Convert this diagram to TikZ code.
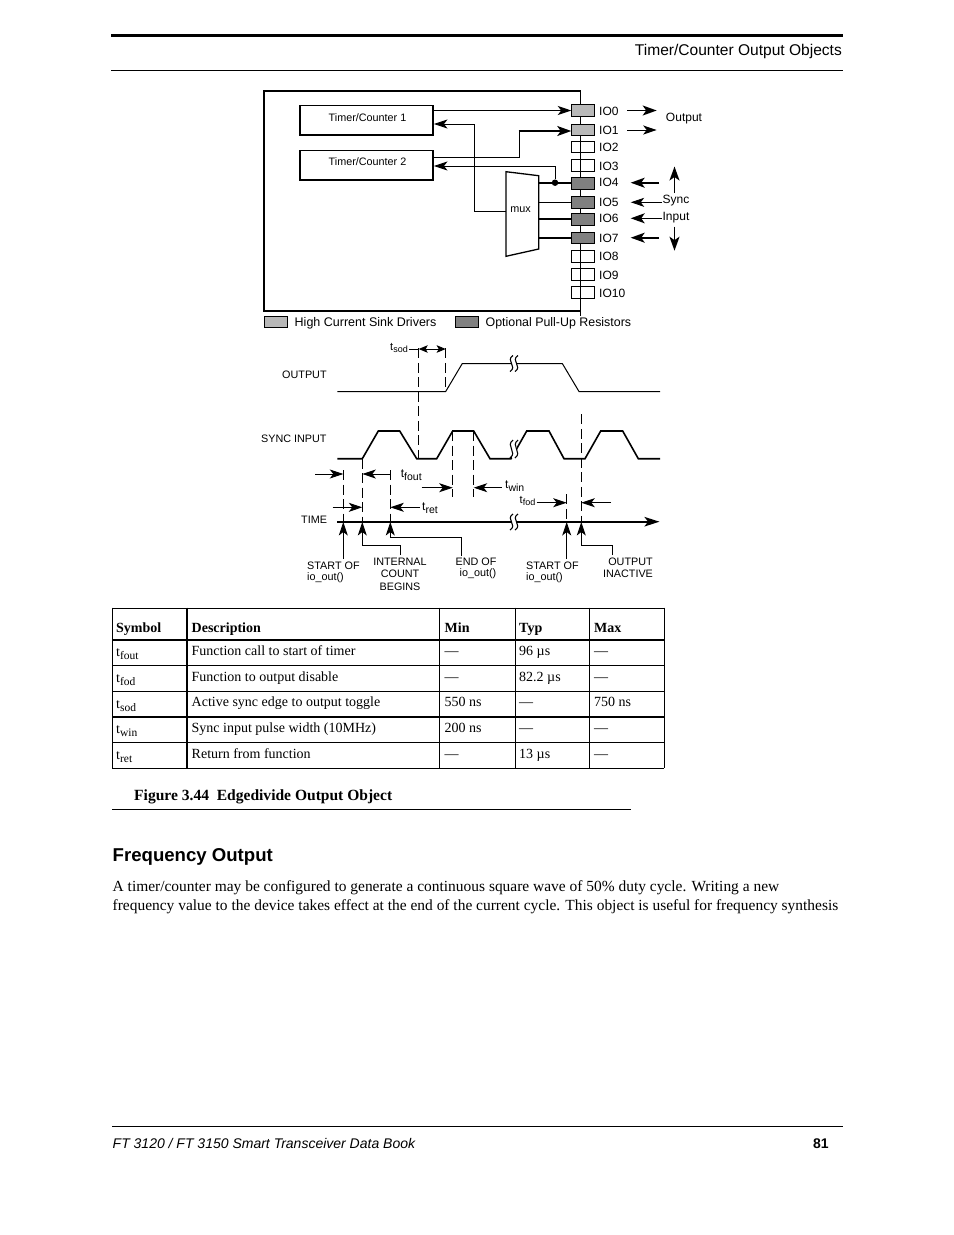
\documentclass[tikz,border=0pt]{standalone}
\usepackage{fontspec}
\setmainfont{Liberation Serif}
\setsansfont{Liberation Sans}
\usetikzlibrary{arrows.meta,calc}
\newcommand{\fsz}[1]{\fontsize{#1bp}{#1bp}\selectfont}
\newcommand{\tsb}[3]{t\raisebox{-#1bp}{\fsz{#2}#3}}
\tikzset{
  x=1bp,y=-1bp,
  tip/.style={-{Stealth[length=13.5bp,width=9bp,inset=3.5bp]}},
  tipk/.style={-{Stealth[length=14bp,width=10bp,inset=3.5bp]}},
  thin line/.style={line width=0.9bp},
  mid line/.style={line width=1.6bp},
  thick line/.style={line width=2bp},
  ab/.style={thin line,tip},
  abk/.style={mid line,tipk},
  ss/.style={inner sep=0pt,font=\sffamily\fsz{#1}},
  ss/.default=10.8,
  io/.style={draw,line width=1bp,minimum width=22.5bp,minimum height=11.8bp,inner sep=0pt},
  hi/.style={io,fill=lightg},
  pu/.style={io,fill=darkg},
  iol/.style={inner sep=0pt,anchor=west,font=\sffamily\fsz{12}},
  tc/.style={draw,line width=1.5bp,minimum width=133bp,minimum height=29.5bp,inner sep=0pt},
  dsh/.style={thin line,dash pattern=on 10bp off 4.5bp},
  tx/.style={inner sep=0pt,anchor=base west,font=\fsz{14}},
  txb/.style={inner sep=0pt,anchor=base west,font=\bfseries\fsz{14}},
  tl/.style={inner sep=0pt,anchor=base west,font=\sffamily\fsz{#1}},
  txt/.style={inner sep=0pt,anchor=base west,font=\fsz{15.45}},
}
\definecolor{lightg}{gray}{0.72}
\definecolor{darkg}{gray}{0.5}
\newcommand{\sq}[3]{\draw[line width=1.1bp] (#1+1.5,#2-#3) .. controls (#1-6.5,#2-#3*0.35) and (#1+6.5,#2+#3*0.35) .. (#1-1.5,#2+#3);}
\newcommand{\squig}[3]{% x, y, half height
  \fill[white] (#1-2.5,#2-#3) rectangle (#1+2.5,#2+#3);
  \sq{#1-2.5}{#2}{#3}
  \sq{#1+2.5}{#2}{#3}
}
\begin{document}
\begin{tikzpicture}
\useasboundingbox (0,0) rectangle (954,1235);
\fill[white] (0,0) rectangle (954,1235);
% page furniture
\draw[line width=2.6bp] (111,35.5) -- (843,35.5);
\draw[thin line] (111,70.5) -- (843,70.5);
\node[ss=15.55,anchor=base east] (hdr) at (842,55) {Timer/Counter Output Objects};
% block diagram
\draw[line width=1.5bp] (580.7,91) -- (264,91) -- (264,311) -- (580.7,311);
\draw[thin line] (580.7,91) -- (580.7,316);
\node[tc] (t1) at (366.7,120.3) {};
\node[tc] (t2) at (366.7,165.3) {};
\node[ss=10.8] (t1l) at (367.5,117.5) {Timer/Counter 1};
\node[ss=10.8] (t2l) at (367.5,161.3) {Timer/Counter 2};
\node[hi] (io0) at (583,110.5) {};
\node[hi] (io1) at (583,130) {};
\node[io] (io2) at (583,147) {};
\node[io] (io3) at (583,165.7) {};
\node[pu] (io4) at (583,183.3) {};
\node[pu] (io5) at (583,202.2) {};
\node[pu] (io6) at (583,219.3) {};
\node[pu] (io7) at (583,238) {};
\node[io] (io8) at (583,256.2) {};
\node[io] (io9) at (583,274.3) {};
\node[io] (io10) at (583,292.7) {};
\node[iol] (l0) at (599,111) {IO0};
\node[iol] (l1) at (599,130) {IO1};
\node[iol] (l2) at (599,147) {IO2};
\node[iol] (l3) at (599,166) {IO3};
\node[iol] (l4) at (599,182.5) {IO4};
\node[iol] (l5) at (599,202) {IO5};
\node[iol] (l6) at (599,218.5) {IO6};
\node[iol] (l7) at (599,238) {IO7};
\node[iol] (l8) at (599,256) {IO8};
\node[iol] (l9) at (599,275) {IO9};
\node[iol] (l10) at (599,293) {IO10};
\draw[line width=1.3bp,fill=white] (506,171.7) -- (538.7,175.7) -- (538.7,249) -- (506,256.3) -- cycle;
\coordinate (mux) at (506,211.7);
\node[ss=10.8] (muxl) at (520.5,209.5) {mux};
\draw[ab] (t1.east |- io0.west) -- (io0.west);
\draw[mid line] (t2.east |- 0,157.3) -- (519.3,157.3) -- (519.3,131);
\draw[abk] (518.5,131) -- (io1.west |- 0,131);
\draw[ab] (mux) -- (474.3,211.7) -- (474.3,124) -- (t1.east |- 0,124);
\node[circle,fill,inner sep=0pt,minimum size=6.5bp] (dot) at (555,182.7) {};
\draw[ab] (dot) -- (555,166) -- (t2.east |- 0,166);
\draw[mid line] (538.7,182.7) -- (io4.west |- 0,182.7);
\draw[thin line] (538.7,202.3) -- (io5.west |- 0,202.3);
\draw[mid line] (538.7,219) -- (io6.west |- 0,219);
\draw[mid line] (538.7,237.7) -- (io7.west |- 0,237.7);
\draw[abk] (627.3,110.5) -- (656.7,110.5);
\draw[ab] (627.3,130) -- (656.7,130);
\draw[abk] (659,182.7) -- (630.7,182.7);
\draw[ab] (662,202.3) -- (630.7,202.3);
\draw[abk] (662,218.3) -- (630.7,218.3);
\draw[abk] (659,237.7) -- (630.7,237.7);
\draw[abk] (674.5,193) -- (674.5,166.5);
\draw[abk] (674.5,226.7) -- (674.5,250.7);
\node[ss=12] (outl) at (684,119) {Output};
\node[ss=12] (syncl) at (676,201) {Sync};
\node[ss=12] (inl) at (676,218) {Input};
% legend
\node[draw,line width=1bp,fill=lightg,minimum width=23bp,minimum height=10.5bp,inner sep=0pt] (k1) at (275.5,321.8) {};
\node[draw,line width=1bp,fill=darkg,minimum width=23bp,minimum height=10.5bp,inner sep=0pt] (k2) at (466.5,321.8) {};
\node[ss=12.5,anchor=base west] (k1l) at (294.5,326.3) {High Current Sink Drivers};
\node[ss=12.4,anchor=base west] (k2l) at (485.5,326.3) {Optional Pull-Up Resistors};
% timing: waveforms
\draw[line width=1bp] (337.3,391.5) -- (445.7,391.5) -- (462.3,363.5) -- (562.3,363.5) -- (579,391.5) -- (660,391.5);
\squig{514}{363.5}{8}
\draw[mid line] (337.3,458.7) -- (362.3,458.7) -- (378.3,431) -- (399.7,431) -- (416.7,458.7) -- (436.7,458.7) -- (452.7,431) -- (473.7,431) -- (490,458.7) -- (511,458.7) -- (526.7,431) -- (549,431) -- (564,458.7) -- (585,458.7) -- (600.7,431) -- (622.7,431) -- (638.3,458.7) -- (660,458.7);
\squig{514}{449}{9}
\draw[thick line,-{Stealth[length=15bp,width=9.5bp,inset=3.5bp]}] (337.3,521.7) -- (659.5,521.7);
\squig{514}{522}{8}
% timing: dashed guides
\draw[dsh] (418.7,348.3) -- (418.7,458.7);
\draw[dsh] (445.7,348.3) -- (445.7,391);
\draw[dsh] (581.3,414.3) -- (581.3,521.7);
\draw[dsh] (452.7,431) -- (452.7,497.3);
\draw[dsh] (473.7,431) -- (473.7,497.3);
\draw[dsh] (362.3,458.7) -- (362.3,521.7);
\draw[dsh] (343.3,470) -- (343.3,521.7);
\draw[dsh] (390.3,470) -- (390.3,521.7);
\draw[dsh] (566.7,494.3) -- (566.7,521.7);
% timing: dimension arrows
\node[tl=11] (tsod) at (390,350) {\tsb{2}{9}{sod}};
\draw[thin line] (409,349) -- (418.7,349);
\draw[thin line,{Stealth[length=9bp,width=7.5bp,inset=2bp]}-{Stealth[length=9bp,width=7.5bp,inset=2bp]}] (418.7,349) -- (445.7,349);
\draw[ab] (315,474) -- (343.3,474);
\draw[ab] (390.3,474) -- (362.3,474);
\node[tl=12] (tfout) at (400.7,477.5) {\tsb{2.5}{10.5}{fout}};
\draw[ab] (421.7,487.7) -- (452.7,487.7);
\draw[ab] (501.7,487.7) -- (473.7,487.7);
\node[tl=12] (twin) at (505,488.5) {\tsb{2.5}{10.5}{win}};
\draw[ab] (332.7,507.3) -- (362.3,507.3);
\draw[ab] (420,507.3) -- (390.3,507.3);
\node[tl=12] (tret) at (422,510.5) {\tsb{2.5}{10.5}{ret}};
\draw[ab] (536.7,502.7) -- (566.7,502.7);
\draw[ab] (611,502.7) -- (581.3,502.7);
\node[tl=11] (tfod) at (519.5,503.3) {\tsb{2}{9}{fod}};
% timing: event arrows
\draw[ab] (343.3,559) -- (343.3,522);
\draw[ab] (400,555) -- (400,545) -- (362.3,545) -- (362.3,522);
\draw[ab] (461,556) -- (461,537.7) -- (390.3,537.7) -- (390.3,522);
\draw[ab] (566.7,559) -- (566.7,522);
\draw[ab] (612.7,555) -- (612.7,545) -- (581.3,545) -- (581.3,522);
% timing labels
\node[ss,anchor=west] (o1) at (282,374.5) {OUTPUT};
\node[ss,anchor=west] (o2) at (261,438.5) {SYNC INPUT};
\node[ss,anchor=west] (o3) at (301,519.5) {TIME};
\node[ss,anchor=west] (a1) at (307,565.5) {START OF};
\node[ss,anchor=west] (a2) at (307,578) {io\_out()};
\node[ss] (b1) at (400,561.5) {INTERNAL};
\node[ss] (b2) at (400,573.5) {COUNT};
\node[ss] (b3) at (400,586.5) {BEGINS};
\node[ss,anchor=west] (c1) at (455.5,561.5) {END OF};
\node[ss,anchor=west] (c2) at (459.5,573.5) {io\_out()};
\node[ss,anchor=west] (d1) at (526,565.5) {START OF};
\node[ss,anchor=west] (d2) at (526,577.5) {io\_out()};
\node[ss] (e1) at (630.5,561.5) {OUTPUT};
\node[ss] (e2) at (628,573.5) {INACTIVE};
% table
\draw[thin line] (112.3,608) -- (664,608);
\draw[line width=1.8bp] (112.3,640.3) -- (664,640.3);
\draw[thin line] (112.3,665.7) -- (664,665.7);
\draw[thin line] (112.3,691.3) -- (664,691.3);
\draw[line width=1.8bp] (112.3,716.7) -- (664,716.7);
\draw[thin line] (112.3,742.3) -- (664,742.3);
\draw[line width=1bp] (112.3,768) -- (664,768);
\draw[line width=1bp] (112.3,607.6) -- (112.3,768.4);
\draw[line width=1.6bp] (187,607.6) -- (187,768.4);
\draw[thin line] (439.7,607.6) -- (439.7,768.4);
\draw[thin line] (515,607.6) -- (515,768.4);
\draw[thin line] (589.7,607.6) -- (589.7,768.4);
\draw[line width=1bp] (664,607.6) -- (664,768.4);
\node[txb] (h1) at (116,632.5) {Symbol};
\node[txb] (h2) at (191.5,632.5) {Description};
\node[txb] (h3) at (444.5,632.5) {Min};
\node[txb] (h4) at (519,632.5) {Typ};
\node[txb] (h5) at (594,632.5) {Max};
\node[tx] (r1a) at (116,656.5) {\tsb{3}{11.5}{fout}};
\node[tx] (r1b) at (191.5,655.5) {Function call to start of timer};
\node[tx] (r1c) at (444.5,655.5) {—};
\node[tx] (r1d) at (519,655.5) {96 µs};
\node[tx] (r1e) at (594,655.5) {—};
\node[tx] (r2a) at (116,682.5) {\tsb{3}{11.5}{fod}};
\node[tx] (r2b) at (191.5,681.5) {Function to output disable};
\node[tx] (r2c) at (444.5,681.5) {—};
\node[tx] (r2d) at (519,681.5) {82.2 µs};
\node[tx] (r2e) at (594,681.5) {—};
\node[tx] (r3a) at (116,708) {\tsb{3}{11.5}{sod}};
\node[tx] (r3b) at (191.5,706) {Active sync edge to output toggle};
\node[tx] (r3c) at (444.5,706) {550 ns};
\node[tx] (r3d) at (519,706) {—};
\node[tx] (r3e) at (594,706) {750 ns};
\node[tx] (r4a) at (116,733.5) {\tsb{3}{11.5}{win}};
\node[tx] (r4b) at (191.5,732) {Sync input pulse width (10MHz)};
\node[tx] (r4c) at (444.5,732) {200 ns};
\node[tx] (r4d) at (519,732) {—};
\node[tx] (r4e) at (594,732) {—};
\node[tx] (r5a) at (116,759) {\tsb{3}{11.5}{ret}};
\node[tx] (r5b) at (191.5,758) {Return from function};
\node[tx] (r5c) at (444.5,758) {—};
\node[tx] (r5d) at (519,758) {13 µs};
\node[tx] (r5e) at (594,758) {—};
% caption and text
\node[inner sep=0pt,anchor=base west,font=\bfseries\fsz{15.55}] (cap) at (134,800) {Figure 3.44\ \ Edgedivide Output Object};
\draw[thin line] (112,809.5) -- (631,809.5);
\node[inner sep=0pt,anchor=base west,font=\sffamily\bfseries\fsz{18.6}] (sec) at (112.5,861) {Frequency Output};
\node[txt] (p1) at (112.5,891) {A timer/counter may be configured to generate a continuous square wave of 50\% duty cycle. Writing a new};
\node[txt] (p2) at (112.5,910) {frequency value to the device takes effect at the end of the current cycle. This object is useful for frequency synthesis};
% footer
\draw[thin line] (112,1126) -- (843,1126);
\node[inner sep=0pt,anchor=base west,font=\sffamily\itshape\fsz{14}] (ft) at (112.5,1148) {FT 3120 / FT 3150 Smart Transceiver Data Book};
\node[inner sep=0pt,anchor=base west,font=\sffamily\bfseries\fsz{14}] (pg) at (813,1148) {81};
\end{tikzpicture}
\end{document}
